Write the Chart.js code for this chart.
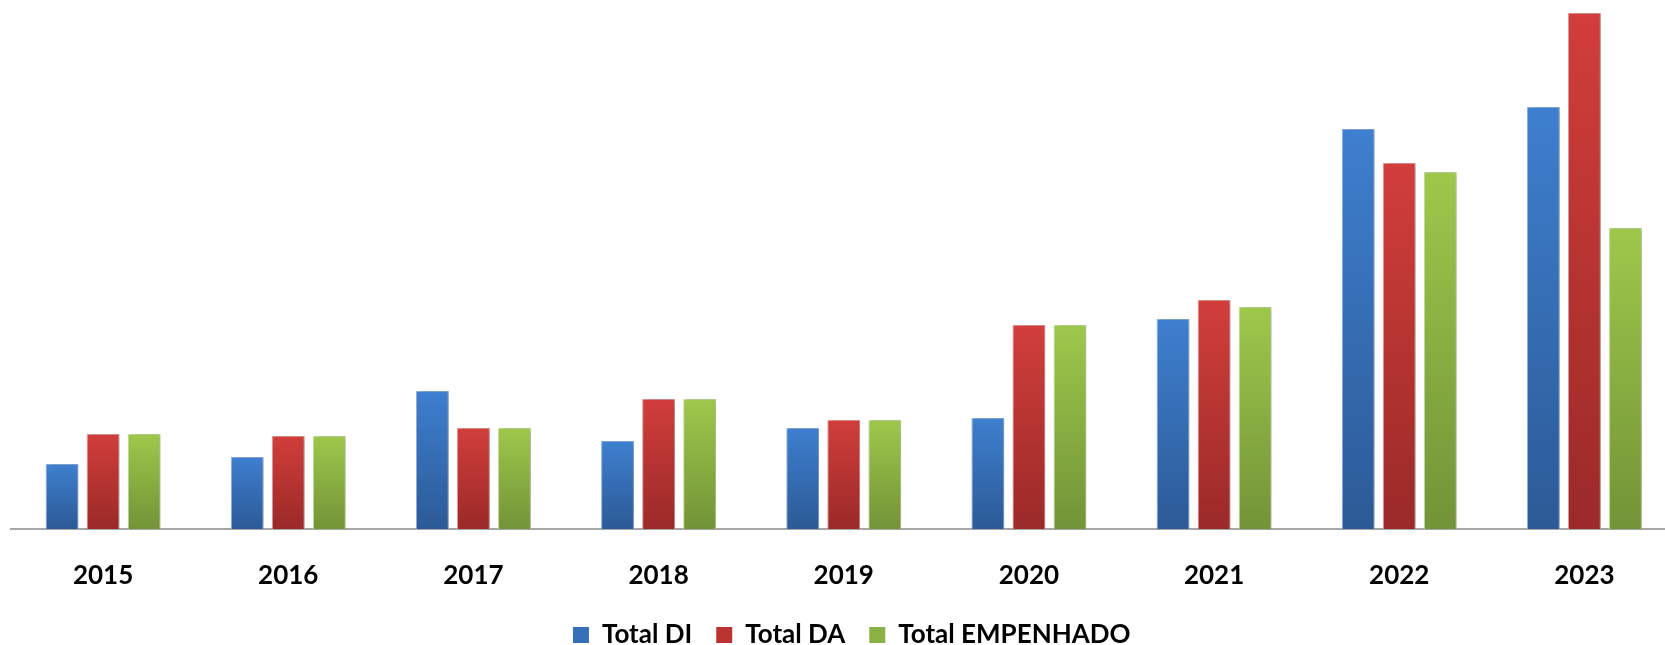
<!DOCTYPE html>
<html>
<head>
<meta charset="utf-8">
<script src="https://cdn.jsdelivr.net/npm/chart.js@4.4.1/dist/chart.umd.min.js"></script>
<style>
html,body{margin:0;padding:0;background:#fff;overflow:hidden;}
#wrap{position:absolute;left:0;top:0;width:1677px;height:658px;}
</style>
</head>
<body>
<div id="wrap"><canvas id="c"></canvas></div>
<script>
const categories = ['2015','2016','2017','2018','2019','2020','2021','2022','2023'];
const totalDI = [65, 72, 138, 88, 101, 111, 210, 400, 422];
const totalDA = [95, 93, 101, 130, 109, 204, 229, 366, 516];
const totalEmpenhado = [95, 93, 101, 130, 109, 204, 222, 357, 301];
const seriesNames = ['Total DI', 'Total DA', 'Total EMPENHADO'];

const palette = [
  {top:'#3e7fcf', bot:'#2c5a96', border:'#8db3e2', mid:'#3570b8'},
  {top:'#d13e3b', bot:'#9a2a28', border:'#e69a98', mid:'#bb3431'},
  {top:'#9dc84b', bot:'#739337', border:'#c8e29a', mid:'#8bb043'}
];

function gradFor(i){
  return function(ctx){
    const chart = ctx.chart;
    const area = chart.chartArea;
    if(!area || ctx.type !== 'data') return palette[i].mid;
    const y = chart.scales.y;
    const top = y.getPixelForValue(ctx.parsed.y);
    const base = y.getPixelForValue(0);
    if(!isFinite(top) || base - top < 1) return palette[i].mid;
    const g = chart.ctx.createLinearGradient(0, top, 0, base);
    g.addColorStop(0, palette[i].top);
    g.addColorStop(1, palette[i].bot);
    return g;
  };
}

const shadowPlugin = {
  id:'shadow',
  beforeDatasetsDraw(chart){
    const c = chart.ctx; c.save();
    c.shadowColor = 'rgba(0,0,0,0.28)';
    c.shadowBlur = 5; c.shadowOffsetX = 2; c.shadowOffsetY = 0;
  },
  afterDatasetsDraw(chart){ chart.ctx.restore(); }
};

const legendShift = {
  id:'legendShift',
  afterLayout(chart){
    if(chart.legend){ chart.legend.left += 8; chart.legend.right += 8; }
  }
};

const sets = [totalDI, totalDA, totalEmpenhado].map((d,i)=>({
  label: seriesNames[i],
  data: d,
  backgroundColor: gradFor(i),
  borderColor: palette[i].border,
  borderWidth: 1,
  categoryPercentage: 0.665,
  barPercentage: 0.8
}));

new Chart(document.getElementById('c'), {
  type:'bar',
  data:{labels:categories, datasets:sets},
  plugins:[shadowPlugin, legendShift],
  options:{
    responsive:true, maintainAspectRatio:false, animation:false,
    layout:{padding:{left:10.5,right:0,top:0,bottom:0}},
    scales:{
      x:{
        grid:{display:false, drawTicks:false},
        border:{display:true, color:'#a6a6a6', width:2},
        ticks:{color:'#000', padding:31, font:{family:'Lato', weight:'bold', size:26}, maxRotation:0},
        afterFit(scale){ scale.height = 69; }
      },
      y:{display:false, min:0, max:529}
    },
    plugins:{
      tooltip:{enabled:false},
      legend:{
        position:'bottom',
        labels:{
          boxWidth:16, boxHeight:16, padding:24,
          color:'#000',
          font:{family:'Lato', weight:'bold', size:26},
          generateLabels(chart){
            return chart.data.datasets.map((ds,i)=>({
              text: ds.label, fillStyle: palette[i].mid, strokeStyle: palette[i].mid,
              lineWidth:0, hidden:false, datasetIndex:i
            }));
          }
        }
      }
    }
  }
});
</script>
</body>
</html>
